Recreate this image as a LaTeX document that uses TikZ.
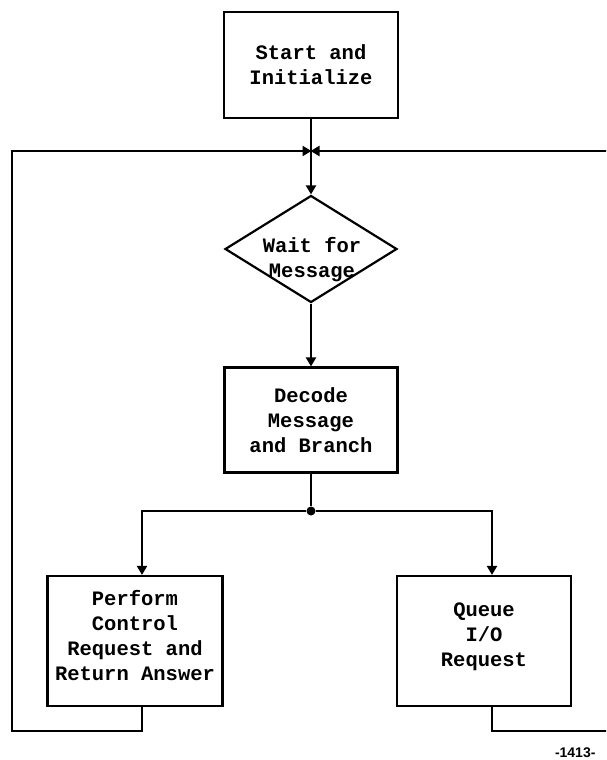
\documentclass[tikz,border=0pt]{standalone}
\usepackage{fontspec}
\setmonofont{Liberation Mono}
\newfontfamily\pagenofont{Liberation Sans}
\usetikzlibrary{shapes.geometric,arrows.meta}
\begin{document}
\begin{tikzpicture}[x=1pt,y=-1pt,
  every node/.style={font=\ttfamily\bfseries\fontsize{20.5}{25}\selectfont},
  procbox/.style={draw,line width=2.2pt,align=center,inner sep=0pt},
  decision/.style={draw,diamond,line width=2.2pt,align=center,inner sep=0pt,
    aspect=1.6,minimum width=172pt,minimum height=107pt},
  flow/.style={line width=2.2pt},
  flowarrow/.style={flow,-{Triangle[width=10pt,length=9pt]}},
  splitdot/.style={circle,fill,inner sep=0pt,minimum size=9pt}]
\useasboundingbox (0,0) rectangle (606,760);
\clip (0,0) rectangle (606,760);
\fill[white] (0,0) rectangle (606,760);

% process steps
\node[procbox,minimum width=174pt,minimum height=106pt] (start) at (311,65) {Start and\\Initialize};
\node[decision] (wait) at (311,249) {};
\node[align=center] (waittext) at (312,260) {Wait for\\Message};
\node[procbox,minimum width=173pt,minimum height=105pt] (decode) at (311,420) {Decode\\Message\\and Branch};
\node[procbox,minimum width=175pt,minimum height=130pt] (perform) at (135,641)
  {Perform\\Control\\Request and\\Return Answer\\[-13pt]\mbox{}};
\node[procbox,minimum width=174pt,minimum height=130pt] (queue) at (484,641)
  {Queue\\I/O\\Request\\[-13pt]\mbox{}};

% junctions and loop corners
\coordinate (join) at (311,151);
\node[splitdot] (split) at (311,511) {};
\coordinate (lbot) at (12,731);
\coordinate (ltop) at (12,151);
\coordinate (rbot) at (612,731);
\coordinate (rtop) at (612,151);

% main flow
\draw[flow] (start.south) -- (join);
\draw[flowarrow] (join) -- (wait.north);
\draw[flowarrow] (wait.south) -- (decode.north);
\draw[flow] (decode.south) -- (split);
\draw[flowarrow] (split) -| ([xshift=7pt]perform.north);
\draw[flowarrow] (split) -| ([xshift=8pt]queue.north);

% return loops back to the wait step
\draw[flow] ([xshift=7pt]perform.south) |- (lbot) -- (ltop) -- ([xshift=-1pt]join);
\draw[flow] ([xshift=8pt]queue.south) |- (rbot) -- (rtop) -- ([xshift=1pt]join);
\draw[flowarrow] ([xshift=-12pt]join) -- ([xshift=0.5pt]join);
\draw[flowarrow] ([xshift=12pt]join) -- ([xshift=-0.5pt]join);

% page number
\node[font=\pagenofont\bfseries\fontsize{14}{16}\selectfont,anchor=east] (pageno) at (599,753) {-1413-};
\end{tikzpicture}
\end{document}
